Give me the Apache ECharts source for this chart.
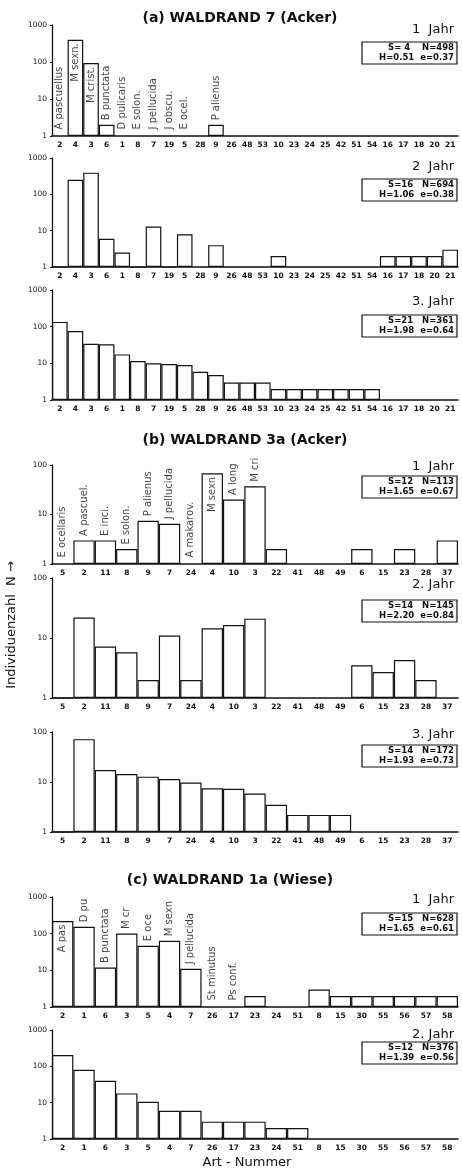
<!DOCTYPE html>
<html>
<head>
<meta charset="utf-8">
<title>Waldrand</title>
<script src="https://cdn.jsdelivr.net/npm/echarts@6/dist/echarts.min.js"></script>
<style>
  html, body { margin: 0; padding: 0; background: #fff; }
  #chart { width: 462px; height: 1171px; }
</style>
</head>
<body>
<div id="chart"></div>
<script>
// Art-Nummern auf der x-Achse, je Standort
var artenA = ['2','4','3','6','1','8','7','19','5','28','9','26','48','53','10','23','24','25','42','51','54','16','17','18','20','21'];
var artenB = ['5','2','11','8','9','7','24','4','10','3','22','41','48','49','6','15','23','28','37'];
var artenC = ['2','1','6','3','5','4','7','26','17','23','24','51','8','15','30','55','56','57','58'];

// Individuen je Art (null = nicht gefangen)
var a1 = [null,400,94,2,null,null,null,null,null,null,2,null,null,null,null,null,null,null,null,null,null,null,null,null,null,null];
var a2 = [1,250,395,6,2.5,1,13,1,8,null,4,null,null,null,2,null,null,null,null,null,null,2,2,2,2,3];
var a3 = [135,76,34,33,17.5,11.5,10,9.6,9,5.9,4.8,3,3,3,2,2,2,2,2,2,2,null,null,null,null,null];

var b1 = [null,3,3,2,7.5,6.5,null,68,20,37,2,null,null,null,2,null,2,null,3];
var b2 = [1,22,7.2,5.8,2,11,2,14.5,16.5,21,null,null,null,null,3.5,2.7,4.3,2,null];
var b3 = [1,72,17.4,14.5,12.8,11.5,9.8,7.5,7.3,5.9,3.5,2.2,2.2,2.2,null,null,null,null,null];

var c1 = [220,154,12,101,47,64,11,null,null,2,null,null,3,2,2,2,2,2,2];
var c2 = [205,80,40,18,10.6,6,6,3,3,3,2,2,null,null,null,null,null,null,null];

// Artnamen, nur im 1. Jahr eingetragen
var namenA1 = ['A pascuellus','M sexn.','M crist.','B punctata','D pulicaris','E solon.','J pellucida','J obscu.','E ocel.','','P alienus'];
var namenB1 = ['E ocellaris','A pascuel.','E inci.','E solon.','P alienus','J pellucida','A makarov.','M sexn','A long','M cri'];
var namenC1 = ['A pas','D pu','B punctata','M cr','E oce','M sexn','J pellucida','St minutus','Ps conf.'];

var jahre = ['1  Jahr','2  Jahr','3. Jahr','1  Jahr','2. Jahr','3. Jahr','1  Jahr','2. Jahr'];
var kennS = ['S= 4    N=498','S=16   N=694','S=21   N=361','S=12   N=113','S=14   N=145','S=14   N=172','S=15   N=628','S=12   N=376'];
var kennH = ['H=0.51  e=0.37','H=1.06  e=0.38','H=1.98  e=0.64','H=1.65  e=0.67','H=2.20  e=0.84','H=1.93  e=0.73','H=1.65  e=0.61','H=1.39  e=0.56'];

var standorte = ['(a) WALDRAND 7 (Acker)','(b) WALDRAND 3a (Acker)','(c) WALDRAND 1a (Wiese)'];

var FONT = 'DejaVu Sans';
var INK = '#111';

var panels = [
    { cats: artenA, data: a1, names: namenA1, inside: [1, 2], top: 25,   height: 111, max: 1000, jahrY: 30,   boxY: 42 },
    { cats: artenA, data: a2, top: 158,  height: 109, max: 1000, jahrY: 167,  boxY: 179 },
    { cats: artenA, data: a3, top: 290,  height: 110, max: 1000, jahrY: 302,  boxY: 315 },
    { cats: artenB, data: b1, names: namenB1, inside: [7], top: 465, height: 99, max: 100, jahrY: 467, boxY: 476 },
    { cats: artenB, data: b2, top: 578,  height: 120, max: 100,  jahrY: 585,  boxY: 600 },
    { cats: artenB, data: b3, top: 732,  height: 100, max: 100,  jahrY: 735,  boxY: 745 },
    { cats: artenC, data: c1, names: namenC1, inside: [0], top: 897, height: 110, max: 1000, jahrY: 900, boxY: 913 },
    { cats: artenC, data: c2, top: 1030, height: 109, max: 1000, jahrY: 1035, boxY: 1042 }
];

var grids = [], xAxes = [], yAxes = [], series = [], graphics = [];

panels.forEach(function(p, i) {
    grids.push({ left: 52, right: 4, top: p.top, height: p.height });

    xAxes.push({
        gridIndex: i,
        type: 'category',
        data: p.cats,
        axisLine: { lineStyle: { color: INK, width: 1.5 } },
        axisTick: { show: false },
        axisLabel: { interval: 0, fontSize: 7.5, fontWeight: 'bold', color: INK, margin: 5, fontFamily: FONT }
    });

    yAxes.push({
        gridIndex: i,
        type: 'log',
        logBase: 10,
        min: 1,
        max: p.max,
        axisLine: { show: true, lineStyle: { color: INK, width: 1.3 } },
        axisTick: { show: true, length: 2, lineStyle: { color: INK } },
        splitLine: { show: false },
        axisLabel: {
            fontSize: 7.5, color: INK, margin: 5, fontFamily: FONT,
            formatter: function(v) { return String(Math.round(v)); }
        }
    });

    series.push({
        type: 'bar',
        xAxisIndex: i,
        yAxisIndex: i,
        data: p.data,
        barCategoryGap: '0%',
        silent: true,
        itemStyle: { color: 'rgba(255,255,255,0)', borderColor: INK, borderWidth: 1.2 }
    });

    // Artnamen senkrecht über (oder in) den Säulen
    if (p.names) {
        var pts = [];
        p.names.forEach(function(n, k) {
            if (!n) return;
            var v = p.data[k] || 1;
            var inside = p.inside.indexOf(k) >= 0;
            pts.push({
                name: n,
                value: [k, v],
                label: inside
                    ? { position: 'bottom', distance: 3, align: 'right' }
                    : { position: 'top', distance: v > 1 ? 4 : 6, align: 'left' }
            });
        });
        series.push({
            type: 'scatter',
            xAxisIndex: i,
            yAxisIndex: i,
            symbolSize: 1,
            silent: true,
            itemStyle: { color: 'rgba(0,0,0,0)' },
            label: {
                show: true, rotate: 90, verticalAlign: 'middle', formatter: '{b}',
                fontSize: 10, fontFamily: FONT, color: INK
            },
            data: pts
        });
    }

    graphics.push({
        type: 'text', x: 454, y: p.jahrY,
        style: { text: jahre[i], font: '13px "' + FONT + '"', fill: INK, textAlign: 'right', textVerticalAlign: 'middle' }
    });
    graphics.push({
        type: 'rect', shape: { x: 362, y: p.boxY, width: 95, height: 22 },
        style: { fill: 'none', stroke: INK, lineWidth: 1.2 }
    });
    graphics.push({
        type: 'text', x: 454, y: p.boxY + 6,
        style: { text: kennS[i], font: 'bold 8.5px "' + FONT + '"', fill: INK, textAlign: 'right', textVerticalAlign: 'middle' }
    });
    graphics.push({
        type: 'text', x: 454, y: p.boxY + 16,
        style: { text: kennH[i], font: 'bold 8.5px "' + FONT + '"', fill: INK, textAlign: 'right', textVerticalAlign: 'middle' }
    });
});

var titelPos = [[240, 18], [245, 440], [230, 880]];
standorte.forEach(function(t, k) {
    graphics.push({
        type: 'text', x: titelPos[k][0], y: titelPos[k][1],
        style: { text: t, font: 'bold 14px "' + FONT + '"', fill: INK, textAlign: 'center', textVerticalAlign: 'middle' }
    });
});

graphics.push({
    type: 'text', x: 247, y: 1163,
    style: { text: 'Art - Nummer', font: '13px "' + FONT + '"', fill: INK, textAlign: 'center', textVerticalAlign: 'middle' }
});
graphics.push({
    type: 'text', x: 12, y: 625, rotation: Math.PI / 2,
    style: { text: 'Individuenzahl  N \u2192', font: '13px "' + FONT + '"', fill: INK, textAlign: 'center', textVerticalAlign: 'middle' }
});

var chart = echarts.init(document.getElementById('chart'));
chart.setOption({
    animation: false,
    backgroundColor: '#fff',
    grid: grids,
    xAxis: xAxes,
    yAxis: yAxes,
    series: series,
    graphic: graphics
});
</script>
</body>
</html>
